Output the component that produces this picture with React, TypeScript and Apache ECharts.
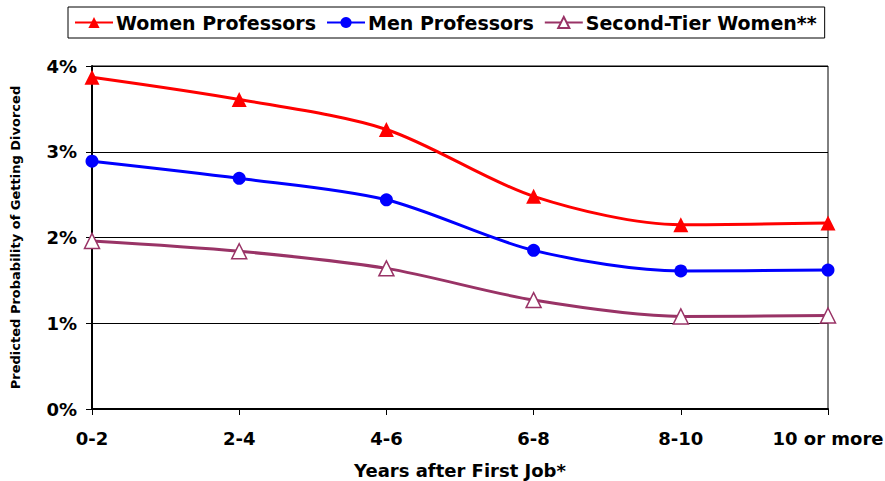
import React, { useEffect, useRef } from "react";
import * as echarts from "echarts";

const categories = ["0-2", "2-4", "4-6", "6-8", "8-10", "10 or more"];
const womenProfessors = [3.87, 3.61, 3.26, 2.48, 2.15, 2.17];
const menProfessors = [2.89, 2.69, 2.44, 1.85, 1.61, 1.62];
const secondTierWomen = [1.96, 1.84, 1.64, 1.27, 1.08, 1.09];
const yTicks = [0, 1, 2, 3, 4];

const FONT = "'DejaVu Sans', Arial, sans-serif";

export default function App() {
  const ref = useRef<HTMLDivElement>(null);
  useEffect(() => {
    if (!ref.current) return;
    const chart = echarts.init(ref.current, null, { renderer: "svg" });
    const mk = (name: string, data: number[], color: string, symbol: string, size: number, hollow: boolean) => ({
      name,
      type: "line",
      data,
      smooth: 0.3,
      symbol,
      symbolSize: size,
      showAllSymbol: true,
      lineStyle: { color, width: 3 },
      itemStyle: { color: hollow ? "#ffffff" : color, borderColor: color, borderWidth: hollow ? 1.5 : 0 },
      z: 3,
    });
    chart.setOption({
      animation: false,
      backgroundColor: "#ffffff",
      textStyle: { fontFamily: FONT },
      legend: {
        left: 68,
        top: 7,
        padding: [6, 8, 6, 6],
        itemGap: 10,
        itemWidth: 38,
        itemHeight: 14,
        borderColor: "#000000",
        borderWidth: 1,
        backgroundColor: "#ffffff",
        textStyle: { fontFamily: FONT, fontWeight: "bold", fontSize: 19, color: "#000000", padding: [0, 0, 0, -2] },
        data: ["Women Professors", "Men Professors", "Second-Tier Women**"],
      },
      grid: {
        left: 92,
        right: 57,
        top: 66,
        bottom: 72,
        show: true,
        borderColor: "#000000",
        borderWidth: 1,
        outerBoundsMode: "none",
        containLabel: false,
      },
      xAxis: {
        type: "category",
        data: categories,
        boundaryGap: false,
        name: "Years after First Job*",
        nameLocation: "middle",
        nameGap: 52,
        nameTextStyle: { fontFamily: FONT, fontWeight: "bold", fontSize: 18, color: "#000000" },
        axisLine: { lineStyle: { color: "#000000", width: 2 } },
        axisTick: { show: true, alignWithLabel: true, length: 6, lineStyle: { color: "#000000", width: 1 } },
        axisLabel: { fontFamily: FONT, fontWeight: "bold", fontSize: 18, color: "#000000", margin: 20 },
        splitLine: { show: false },
      },
      yAxis: {
        type: "value",
        min: yTicks[0],
        max: yTicks[yTicks.length - 1],
        interval: 1,
        name: "Predicted Probability of Getting Divorced",
        nameLocation: "middle",
        nameGap: 70,
        nameTextStyle: { fontFamily: FONT, fontWeight: "bold", fontSize: 13, color: "#000000" },
        axisLine: { show: true, lineStyle: { color: "#000000", width: 2 } },
        axisTick: { show: true, length: 6, lineStyle: { color: "#000000", width: 1 } },
        axisLabel: { fontFamily: FONT, fontWeight: "bold", fontSize: 18, color: "#000000", margin: 15, formatter: "{value}%" },
        splitLine: { show: true, lineStyle: { color: "#000000", width: 1 } },
      },
      series: [
        mk("Women Professors", womenProfessors, "#ff0000", "triangle", 15, false),
        mk("Men Professors", menProfessors, "#0000ff", "circle", 13, false),
        mk("Second-Tier Women**", secondTierWomen, "#993366", "triangle", 15, true),
      ],
    });
    return () => chart.dispose();
  }, []);
  return <div ref={ref} style={{ position: "fixed", left: 0, top: 0, width: 885, height: 481 }} />;
}
